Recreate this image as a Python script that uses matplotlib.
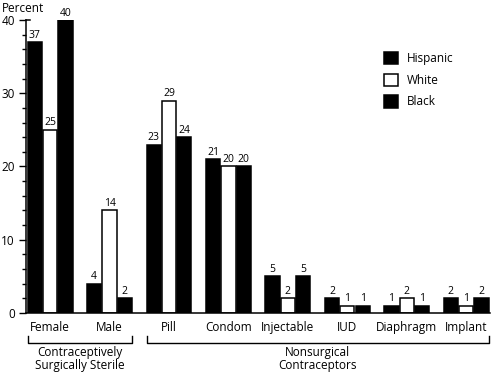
import matplotlib
matplotlib.use("Agg")
import matplotlib.pyplot as plt
import matplotlib.transforms as mtransforms
from matplotlib.patches import Patch
import numpy as np

categories = ["Female", "Male", "Pill", "Condom", "Injectable", "IUD", "Diaphragm", "Implant"]
hispanic = [37, 4, 23, 21, 5, 2, 1, 2]
white = [25, 14, 29, 20, 2, 1, 2, 1]
black = [40, 2, 24, 20, 5, 1, 1, 2]
series_names = ["Hispanic", "White", "Black"]
group_labels = ["Contraceptively\nSurgically Sterile", "Nonsurgical\nContraceptors"]
group_spans = [(0, 1), (2, 7)]
yticks = [0, 10, 20, 30, 40]

plt.rcParams['font.family'] = ['Open Sans', 'DejaVu Sans']

fig = plt.figure(figsize=(4.98, 3.76), dpi=100)
W, H = 498, 376
ax = fig.add_axes([26 / W, (H - 313) / H, (490 - 26) / W, (313 - 20) / H])

x = np.arange(len(categories))
bw = 0.24
off = 0.258
lw = 1.1
b1 = ax.bar(x - off, hispanic, bw, color="black", edgecolor="black", linewidth=lw, label=series_names[0])
b2 = ax.bar(x, white, bw, color="white", edgecolor="black", linewidth=lw, label=series_names[1])
b3 = ax.bar(x + off, black, bw, color="black", edgecolor="black", linewidth=lw, label=series_names[2])
for b in (b1, b2, b3):
    ax.bar_label(b, padding=1, fontsize=7.5)

ax.set_xlim(-0.405, 7.40)
ax.set_ylim(0, 40)
ax.set_yticks(yticks)
ax.set_yticks(np.arange(0, 41, 2), minor=True)
ax.tick_params(axis='y', which='major', length=5, width=1.0, labelsize=8.5, pad=3, direction='out')
ax.tick_params(axis='y', which='minor', length=3, width=1.0, direction='out')
ax.set_xticks(x, categories)
ax.tick_params(axis='x', length=0, labelsize=8.5, pad=6)
for s in ("top", "right"):
    ax.spines[s].set_visible(False)
ax.spines["left"].set_linewidth(1.1)
ax.spines["bottom"].set_linewidth(1.1)
# small top cap on y axis
ax.plot([0, 0.008], [1, 1], transform=ax.transAxes, color="black", lw=1.1, clip_on=False)

fig.text(2 / W, 1 - 9 / H, "Percent", fontsize=8.5, va="center", ha="left")

# brackets
tr = mtransforms.blended_transform_factory(ax.transData, fig.transFigure)
yb = 1 - 343 / H
yt = 1 - 336 / H
for (a, b), lab in zip(group_spans, group_labels):
    x0 = a - off - bw / 2
    x1 = b + off + bw / 2
    ax.plot([x0, x0, x1, x1], [yt, yb, yb, yt], transform=tr, color="black", lw=1.0, clip_on=False)
    ax.text((x0 + x1) / 2, 1 - 346 / H, lab, transform=tr, ha="center", va="top",
            fontsize=8.5, linespacing=1.05)

handles = [Patch(facecolor="black", edgecolor="black", linewidth=lw),
           Patch(facecolor="white", edgecolor="black", linewidth=lw),
           Patch(facecolor="black", edgecolor="black", linewidth=lw)]
ax.legend(handles, series_names, loc="upper left", bbox_to_anchor=(373 / W, 1 - 41 / H),
          bbox_transform=fig.transFigure, frameon=False, fontsize=8.5,
          handlelength=1.25, handleheight=1.2, labelspacing=0.75, handletextpad=0.7)

fig.savefig("out.png", dpi=100)
